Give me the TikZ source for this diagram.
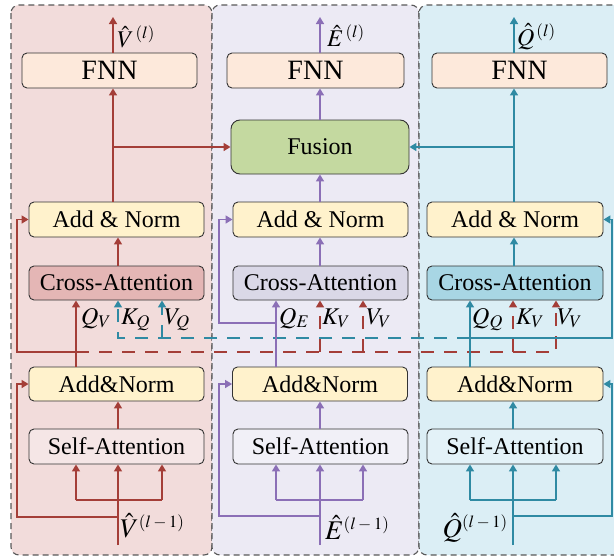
\documentclass[tikz,border=0pt]{standalone}
\usepackage{mathptmx}
\usepackage{fontspec}
\setmainfont{Liberation Serif}
\usetikzlibrary{arrows.meta,calc}

\definecolor{cred}{HTML}{A43E38}
\definecolor{cpur}{HTML}{8B6FB6}
\definecolor{cblu}{HTML}{2F8AA3}
\definecolor{panL}{HTML}{F2DCDB}
\definecolor{panM}{HTML}{ECEAF4}
\definecolor{panR}{HTML}{DBEEF5}
\definecolor{fnnc}{HTML}{FDE9DB}
\definecolor{anc}{HTML}{FFF2CC}
\definecolor{fusc}{HTML}{C4D9A0}
\definecolor{caLc}{HTML}{E4B6B5}
\definecolor{caMc}{HTML}{DAD8E7}
\definecolor{caRc}{HTML}{A8D6E4}
\definecolor{saLc}{HTML}{F5E6E6}
\definecolor{saMc}{HTML}{F1F0F7}
\definecolor{saRc}{HTML}{E3F2F8}

\newcommand{\suplab}[1]{\mbox{\fontsize{17}{17}\selectfont$#1$}}

\begin{document}
\begin{tikzpicture}[x=1pt,y=-1pt,
  panel/.style={draw=black!65, dash pattern=on 6pt off 4pt, line width=1.1pt, rounded corners=8pt},
  blk/.style={draw=black!80, line width=0.9pt, rounded corners=5pt, minimum width=175pt, minimum height=35pt, inner sep=0pt, font=\fontsize{24}{28}\selectfont},
  fnnbox/.style={blk, fill=fnnc, font=\fontsize{28}{32}\selectfont},
  arr/.style={line width=1.6pt, -{Triangle[length=7pt,width=8pt]}},
  ln/.style={line width=1.6pt},
  dsh/.style={dash pattern=on 13pt off 10pt},
  lab/.style={inner sep=0pt, font=\fontsize{24}{28}\selectfont},
  tlab/.style={inner sep=0pt, font=\fontsize{24}{28}\selectfont},
  blab/.style={inner sep=0pt, font=\fontsize{27}{30}\selectfont},
]
\useasboundingbox (0,0) rectangle (614,557);
\begin{scope}
\clip (0,0) rectangle (614,557);
\draw[panel, fill=panL] (11,5) rectangle (212,555);
\draw[panel, fill=panM] (212,5) rectangle (419,555);
\draw[panel, fill=panR] (419,5) rectangle (640,555);
\end{scope}

% ---------- boxes ----------
\node[fnnbox] (fnnL) at (109.5,70.5) {FNN};
\node[blk, fill=anc] (anL) at (116.5,219.5) {Add \& Norm};
\node[blk, fill=caLc, minimum height=34pt] (caL) at (116.5,283) {Cross-Attention};
\node[blk, fill=anc, minimum height=34pt] (an2L) at (116.5,384) {Add\&Norm};
\node[blk, fill=saLc] (saL) at (116.5,446.5) {Self-Attention};

\node[fnnbox, minimum width=177pt] (fnnM) at (315.5,70.5) {FNN};
\node[blk, fill=fusc, minimum width=178pt, minimum height=54pt, rounded corners=9pt] (fus) at (320,147) {Fusion};
\node[blk, fill=anc] (anM) at (320.5,219.5) {Add \& Norm};
\node[blk, fill=caMc, minimum height=34pt] (caM) at (320.5,283) {Cross-Attention};
\node[blk, fill=anc, minimum height=34pt] (an2M) at (320,384) {Add\&Norm};
\node[blk, fill=saMc] (saM) at (320.5,446.5) {Self-Attention};

\node[fnnbox] (fnnR) at (519.5,70.5) {FNN};
\node[blk, fill=anc, minimum width=176pt] (anR) at (515,219.5) {Add \& Norm};
\node[blk, fill=caRc, minimum width=176pt, minimum height=34pt] (caR) at (515,283) {Cross-Attention};
\node[blk, fill=anc, minimum width=176pt, minimum height=34pt] (an2R) at (515,384) {Add\&Norm};
\node[blk, fill=saRc, minimum width=176pt] (saR) at (515,446.5) {Self-Attention};

% ---------- helper coordinates ----------
\coordinate (topy) at (0,17);
\coordinate (inL) at (118,545);
\coordinate (tL) at (113,0);
\coordinate (a1L) at (76,500);
\coordinate (a3L) at (162,500);
\coordinate (rL) at (118,517);
\coordinate (rxL) at (17,0);
\coordinate (jL) at (76,352);
\coordinate (kQ) at (118,338);
\coordinate (vQ) at (162,338);

\coordinate (inM) at (320,545);
\coordinate (a1M) at (276,500);
\coordinate (a3M) at (363,500);
\coordinate (rM) at (320,516);
\coordinate (rxM) at (219,0);
\coordinate (jM) at (276,323);
\coordinate (kVM) at (320,352);
\coordinate (vVM) at (363,352);

\coordinate (inR) at (513,545);
\coordinate (tR) at (514,0);
\coordinate (a1R) at (470,500);
\coordinate (a3R) at (556,500);
\coordinate (rR) at (513,516);
\coordinate (rxR) at (612,0);
\coordinate (jR) at (470,338);
\coordinate (kVR) at (513,352);
\coordinate (vVR) at (556,352);

% ---------- dashed cross links ----------
\draw[arr,dsh,cblu] (jR) -- (kQ) -- (kQ |- caL.south);
\draw[arr,dsh,cblu] (vQ) -- (vQ |- caL.south);
\draw[arr,dsh,cred] (jL) -- (vVR) -- (vVR |- caR.south);
\draw[arr,dsh,cred] (kVM) -- (kVM |- caM.south);
\draw[arr,dsh,cred] (vVM) -- (vVM |- caM.south);
\draw[arr,dsh,cred] (kVR) -- (kVR |- caR.south);

% ---------- left column ----------
\draw[arr,cred] (inL) -- (inL |- saL.south);
\draw[ln,cred] (a1L) -- (a3L);
\draw[arr,cred] (a1L) -- (a1L |- saL.south);
\draw[arr,cred] (a3L) -- (a3L |- saL.south);
\draw[arr,cred] (rL) -| (rxL |- an2L.west) -- (an2L.west);
\draw[arr,cred] (saL.north -| inL) -- (an2L.south -| inL);
\draw[arr,cred] (an2L.north -| jL) -- (caL.south -| jL);
\draw[arr,cred] (jL) -| (rxL |- anL.west) -- (anL.west);
\draw[arr,cred] (caL.north -| inL) -- (anL.south -| inL);
\draw[arr,cred] (anL.north -| tL) -- (fnnL.south -| tL);
\draw[arr,cred] (tL |- fus.west) -- (fus.west);
\draw[arr,cred] (fnnL.north -| tL) -- (tL |- topy);

% ---------- middle column ----------
\draw[arr,cpur] (inM) -- (inM |- saM.south);
\draw[ln,cpur] (a1M) -- (a3M);
\draw[arr,cpur] (a1M) -- (a1M |- saM.south);
\draw[arr,cpur] (a3M) -- (a3M |- saM.south);
\draw[arr,cpur] (rM) -| (rxM |- an2M.west) -- (an2M.west);
\draw[arr,cpur] (saM.north -| inM) -- (an2M.south -| inM);
\draw[arr,cpur] (an2M.north -| jM) -- (caM.south -| jM);
\draw[arr,cpur] (jM) -| (rxM |- anM.west) -- (anM.west);
\draw[arr,cpur] (caM.north -| inM) -- (anM.south -| inM);
\draw[arr,cpur] (anM.north -| inM) -- (fus.south -| inM);
\draw[arr,cpur] (fus.north -| inM) -- (fnnM.south -| inM);
\draw[arr,cpur] (fnnM.north -| inM) -- (inM |- topy);

% ---------- right column ----------
\draw[arr,cblu] (inR) -- (inR |- saR.south);
\draw[ln,cblu] (a1R) -- (a3R);
\draw[arr,cblu] (a1R) -- (a1R |- saR.south);
\draw[arr,cblu] (a3R) -- (a3R |- saR.south);
\draw[arr,cblu] (rR) -| (rxR |- an2R.east) -- (an2R.east);
\draw[arr,cblu] (saR.north -| inR) -- (an2R.south -| inR);
\draw[arr,cblu] (an2R.north -| jR) -- (caR.south -| jR);
\draw[arr,cblu] (jR) -| (rxR |- anR.east) -- (anR.east);
\draw[arr,cblu] (caR.north -| tR) -- (anR.south -| tR);
\draw[arr,cblu] (anR.north -| tR) -- (fnnR.south -| tR);
\draw[arr,cblu] (tR |- fus.east) -- (fus.east);
\draw[arr,cblu] (fnnR.north -| tR) -- (tR |- topy);

% ---------- labels ----------
\node[tlab, anchor=base west] (oV) at (117,47) {$\hat{V}^{\suplab{\,(l)}}$};
\node[tlab, anchor=base west] (oE) at (327,46) {$\hat{E}^{\suplab{\,(l)}}$};
\node[tlab, anchor=base west] (oQ) at (517,45) {$\hat{Q}^{\suplab{\,(l)}}$};

\node[lab, anchor=base west] (lQV) at (81,324) {$Q_V$};
\node[lab, anchor=base west] (lKQ) at (121,324) {$K_Q$};
\node[lab, anchor=base west] (lVQ) at (164,324) {$V_Q$};
\node[lab, anchor=base west] (lQE) at (279,324) {$Q_E$};
\node[lab, anchor=base west] (lKVM) at (322,324) {$K_V$};
\node[lab, anchor=base west] (lVVM) at (366,324) {$V_V$};
\node[lab, anchor=base west] (lQQ) at (472,324) {$Q_Q$};
\node[lab, anchor=base west] (lKVR) at (516,324) {$K_V$};
\node[lab, anchor=base west] (lVVR) at (557,324) {$V_V$};

\node[blab, anchor=base west] (iV) at (120,537) {$\hat{V}^{\suplab{(l-1)}}$};
\node[blab, anchor=base west] (iE) at (325,539) {$\hat{E}^{\suplab{(l-1)}}$};
\node[blab, anchor=base east] (iQ) at (508,537) {$\hat{Q}^{\suplab{(l-1)}}$};
\end{tikzpicture}
\end{document}
